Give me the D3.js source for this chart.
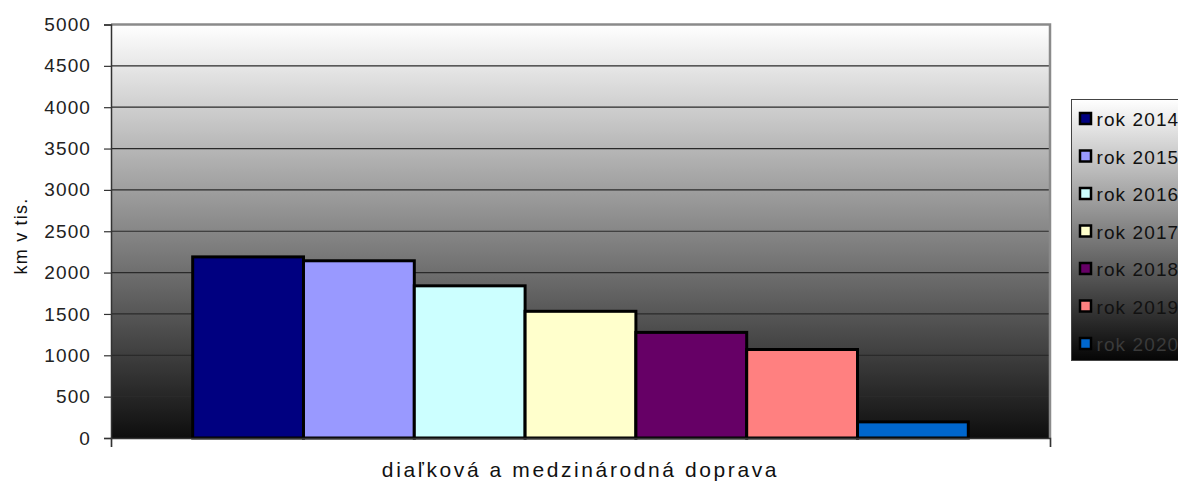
<!DOCTYPE html>
<html>
<head>
<meta charset="utf-8">
<script src="https://cdn.jsdelivr.net/npm/d3@7"></script>
<style>
  body { margin: 0; background: #fff; }
  svg { display: block; font-family: Arial, "Liberation Sans", sans-serif; }
  .tick text { fill: #222; }
</style>
</head>
<body>
<div id="holder"></div>
<script>
  // Data
  const category = 'diaľková a medzinárodná doprava';
  const years = ['rok 2014', 'rok 2015', 'rok 2016', 'rok 2017', 'rok 2018', 'rok 2019', 'rok 2020'];
  const values = [2190, 2143, 1840, 1532, 1277, 1070, 195];
  const colors = ['#000080', '#9999ff', '#ccffff', '#ffffcc', '#660066', '#ff8080', '#0066cc'];
  const yTicks = [0, 500, 1000, 1500, 2000, 2500, 3000, 3500, 4000, 4500, 5000];

  const w = 1178;
  const h = 482;
  const plotL = 111, plotR = 1050, plotT = 24.5, plotB = 438;

  const svg = d3.select('#holder').append('svg').attr('width', w).attr('height', h);

  const defs = svg.append('defs');
  const grad = defs.append('linearGradient').attr('id', 'bg')
    .attr('x1', 0).attr('y1', 0).attr('x2', 0).attr('y2', 1);
  grad.append('stop').attr('offset', '0%').attr('stop-color', '#ffffff');
  grad.append('stop').attr('offset', '100%').attr('stop-color', '#0e0e0e');

  const yScale = d3.scaleLinear().domain([0, 5000]).range([plotB, plotT]);
  const x0 = d3.scaleBand().domain([category]).range([plotL, plotR])
    .paddingInner(0.174).paddingOuter(0.087);
  const x1 = d3.scaleBand().domain(years).range([0, x0.bandwidth()]);

  // plot background
  svg.append('rect')
    .attr('x', plotL).attr('y', plotT)
    .attr('width', plotR - plotL).attr('height', plotB - plotT)
    .attr('fill', 'url(#bg)');

  // gridlines
  svg.append('g').selectAll('line')
    .data(yTicks.filter((d) => d > 0))
    .enter().append('line')
    .attr('x1', plotL).attr('x2', plotR)
    .attr('y1', (d) => yScale(d)).attr('y2', (d) => yScale(d))
    .attr('stroke', '#2a2a2a').attr('stroke-width', 1.2);

  // frame top / right
  svg.append('path')
    .attr('d', `M${plotL},${plotT} H${plotR} V${plotB}`)
    .attr('fill', 'none').attr('stroke', '#8a8a8a').attr('stroke-width', 2.5);

  // bars
  svg.append('g').selectAll('rect')
    .data(values)
    .enter().append('rect')
    .attr('x', (d, i) => x0(category) + x1(years[i]))
    .attr('y', (d) => yScale(d))
    .attr('width', x1.bandwidth())
    .attr('height', (d) => plotB - yScale(d))
    .attr('fill', (d, i) => colors[i])
    .attr('stroke', '#000').attr('stroke-width', 3);

  // y axis
  const yAxis = d3.axisLeft(yScale).tickValues(yTicks).tickFormat(d3.format('d'))
    .tickSize(7).tickPadding(13);
  const gy = svg.append('g').attr('transform', `translate(${plotL},0)`).call(yAxis);
  gy.select('.domain').attr('stroke', '#333').attr('stroke-width', 1.5);
  gy.selectAll('.tick line').attr('stroke', '#333').attr('stroke-width', 1.2);
  gy.selectAll('.tick text')
    .style('font-size', '19px')
    .style('letter-spacing', '1.1px')
    .attr('font-family', null);

  // x axis
  const xAxis = d3.axisBottom(d3.scaleLinear().domain([0, 1]).range([plotL, plotR]))
    .tickValues([0, 1]).tickSize(9).tickFormat('');
  const gx = svg.append('g').attr('transform', `translate(0,${plotB})`).call(xAxis);
  gx.select('.domain').attr('stroke', '#333').attr('stroke-width', 1.5);
  gx.selectAll('.tick line').attr('stroke', '#333').attr('stroke-width', 1.2);

  // axis titles
  svg.append('text')
    .attr('x', (plotL + plotR) / 2).attr('y', 477)
    .attr('text-anchor', 'middle')
    .style('font-size', '21px').style('letter-spacing', '2.6px')
    .attr('fill', '#111')
    .text(category);

  svg.append('text')
    .attr('transform', 'translate(27,236) rotate(-90)')
    .attr('text-anchor', 'middle')
    .style('font-size', '18px').style('letter-spacing', '1.2px')
    .attr('fill', '#111')
    .text('km v tis.');

  // legend
  const lgGrad = defs.append('linearGradient').attr('id', 'lg')
    .attr('x1', 0).attr('y1', 0).attr('x2', 0).attr('y2', 1);
  lgGrad.append('stop').attr('offset', '0%').attr('stop-color', '#ffffff');
  lgGrad.append('stop').attr('offset', '100%').attr('stop-color', '#050505');

  const legend = svg.append('g').attr('transform', 'translate(1071.5,99.5)');
  legend.append('rect')
    .attr('width', 130).attr('height', 261)
    .attr('fill', 'url(#lg)').attr('stroke', '#444').attr('stroke-width', 1);

  const item = legend.selectAll('g.item')
    .data(years)
    .enter().append('g').attr('class', 'item')
    .attr('transform', (d, i) => `translate(0,${19.5 + i * 37.5})`);
  item.append('rect')
    .attr('x', 8.5).attr('y', -6).attr('width', 11).attr('height', 11)
    .attr('fill', (d, i) => colors[i])
    .attr('stroke', '#000').attr('stroke-width', 2.5);
  item.append('text')
    .attr('x', 25).attr('y', 7)
    .style('font-size', '19px').style('letter-spacing', '1.1px')
    .attr('fill', (d, i) => (i === years.length - 1 ? '#3a3a3a' : '#111'))
    .text((d) => d);
</script>
</body>
</html>
